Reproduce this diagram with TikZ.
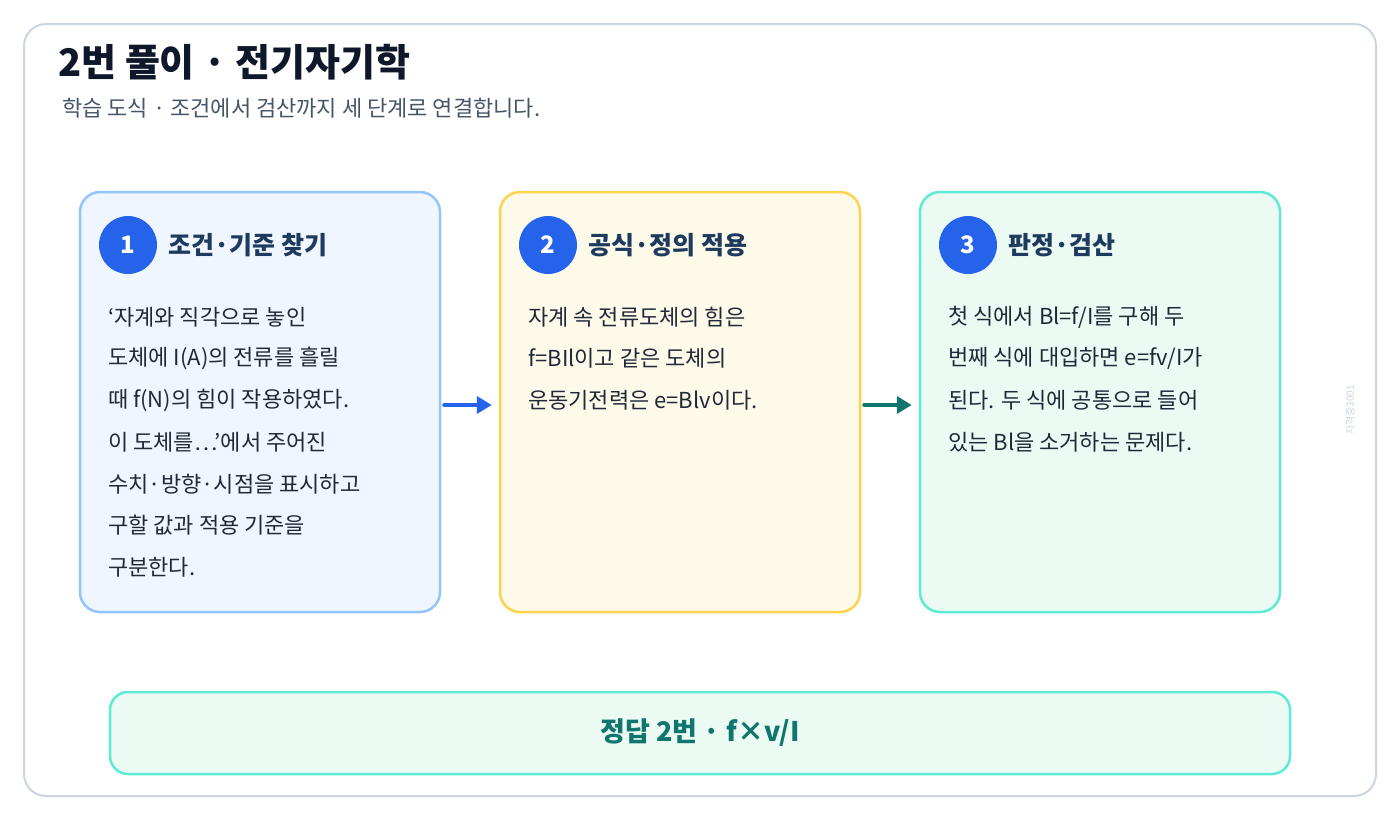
\documentclass[tikz,border=0pt]{standalone}
\usepackage{fontspec}
\setmainfont{Noto Sans CJK KR}
\usepackage{tikz}
\usetikzlibrary{arrows.meta}

\definecolor{frameGray}{HTML}{CBD5E1}
\definecolor{headInk}{HTML}{0F172A}
\definecolor{subInk}{HTML}{475569}
\definecolor{titleNavy}{HTML}{1E3A5F}
\definecolor{bodyInk}{HTML}{1F2937}
\definecolor{stepBlue}{HTML}{2563EB}
\definecolor{blueLine}{HTML}{93C5FD}
\definecolor{blueFill}{HTML}{EFF6FF}
\definecolor{amberLine}{HTML}{FCD34D}
\definecolor{amberFill}{HTML}{FEFAEA}
\definecolor{mintLine}{HTML}{5EEAD4}
\definecolor{mintFill}{HTML}{EBFBF4}
\definecolor{tealInk}{HTML}{0F766E}

\begin{document}
\begin{tikzpicture}[x=1pt, y=-1pt]
        \tikzstyle{frameStyle} = [draw=frameGray, line width=2pt, fill=white, rounded corners=22pt]
        \tikzstyle{cardStyle} = [line width=2.5pt, rounded corners=20pt,
            minimum width=360pt, minimum height=420pt]
        \tikzstyle{stepCircle} = [circle, fill=stepBlue, minimum size=58pt, inner sep=0pt,
            text=white, font=\fontsize{24}{24}\selectfont\bfseries]
        \tikzstyle{cardTitle} = [anchor=west, inner sep=0pt, text=titleNavy,
            font=\fontsize{25}{25}\selectfont\bfseries]
        \tikzstyle{bodyText} = [anchor=west, inner sep=0pt, text=bodyInk,
            font=\fontsize{22}{22}\selectfont]
        \tikzstyle{flowArrow} = [line width=4pt, line cap=round,
            -{Triangle[length=15pt,width=17pt]}, shorten <=3pt, shorten >=7pt]
        \useasboundingbox (0,0) rectangle (1400,820);

        % frame and heading
        \node[frameStyle, minimum width=1352pt, minimum height=772pt] (frame) at (700,410) {};
        \node[anchor=west, inner sep=0pt, text=headInk, font=\fontsize{38}{38}\selectfont\bfseries]
            (heading) at (58,62) {2번 풀이 · 전기자기학};
        \node[anchor=west, inner sep=0pt, text=subInk, font=\fontsize{22}{22}\selectfont]
            (subheading) at (62,108) {학습 도식 · 조건에서 검산까지 세 단계로 연결합니다.};

        % three cards
        \node[cardStyle, draw=blueLine, fill=blueFill] (card1) at (260,402) {};
        \node[cardStyle, draw=amberLine, fill=amberFill] (card2) at (680,402) {};
        \node[cardStyle, draw=mintLine, fill=mintFill] (card3) at (1100,402) {};

        \node[stepCircle] (num1) at (128,245) {1};
        \node[stepCircle] (num2) at (548,245) {2};
        \node[stepCircle] (num3) at (968,245) {3};
        \node[cardTitle] (title1) at (168,245) {조건·기준 찾기};
        \node[cardTitle] (title2) at (588,245) {공식·정의 적용};
        \node[cardTitle] (title3) at (1008,245) {판정·검산};

        \foreach \line [count=\i from 0] in {{‘자계와 직각으로 놓인}, {도체에 I(A)의 전류를 흘릴},
                {때 f(N)의 힘이 작용하였다.}, {이 도체를…’에서 주어진},
                {수치·방향·시점을 표시하고}, {구할 값과 적용 기준을}, {구분한다.}}
            \node[bodyText] (text1-\i) at (108,{317+41.7*\i}) {\line};
        \foreach \line [count=\i from 0] in {{자계 속 전류도체의 힘은},
                {f=BIl이고 같은 도체의}, {운동기전력은 e=Blv이다.}}
            \node[bodyText] (text2-\i) at (528,{317+41.7*\i}) {\line};
        \foreach \line [count=\i from 0] in {{첫 식에서 Bl=f/I를 구해 두},
                {번째 식에 대입하면 e=fv/I가}, {된다. 두 식에 공통으로 들어},
                {있는 Bl을 소거하는 문제다.}}
            \node[bodyText] (text3-\i) at (948,{317+41.7*\i}) {\line};

        \draw[flowArrow, stepBlue] ([yshift=-3pt]card1.east) -- ([yshift=-3pt]card2.west);
        \draw[flowArrow, tealInk] ([yshift=-3pt]card2.east) -- ([yshift=-3pt]card3.west);

        % answer bar
        \node[draw=mintLine, fill=mintFill, line width=2.5pt, rounded corners=18pt,
            minimum width=1180pt, minimum height=82pt, text=tealInk,
            font=\fontsize{27}{27}\selectfont\bfseries] (answer) at (700,733) {정답 2번 · f×v/I};

        \node[rotate=90, text=frameGray, font=\fontsize{10}{10}\selectfont] (stamp) at (1350,410) {자격증3001};
    \end{tikzpicture}
\end{document}
